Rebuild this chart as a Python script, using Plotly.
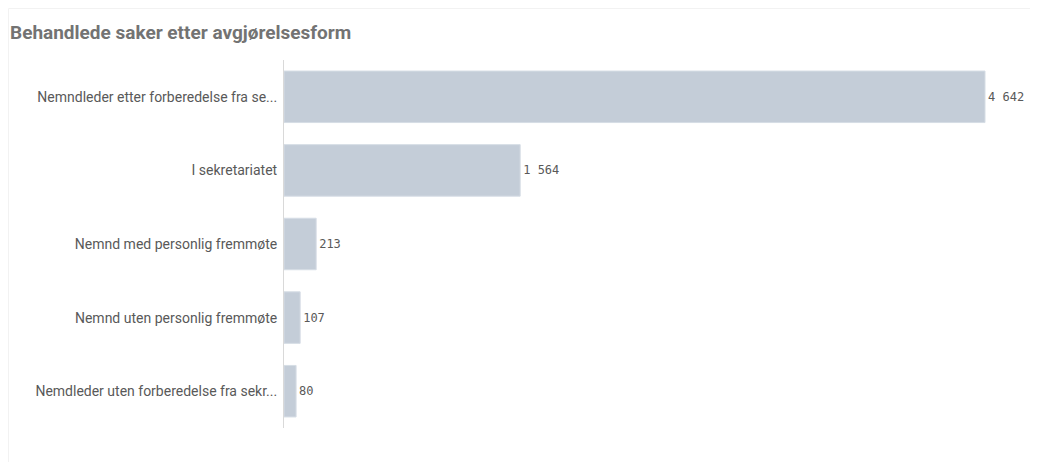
import plotly.graph_objects as go

categories = [
    "Nemndleder etter forberedelse fra se...",
    "I sekretariatet",
    "Nemnd med personlig fremmøte",
    "Nemnd uten personlig fremmøte",
    "Nemdleder uten forberedelse fra sekr...",
]
values = [4642, 1564, 213, 107, 80]
value_labels = ["4\u202f642", "1\u202f564", "213", "107", "80"]

W, H = 1030, 454
L, R, T, B = 276, 8, 52, 34
PW, PH = W - L - R, H - T - B

fig = go.Figure(go.Bar(
    y=categories,
    x=values,
    orientation="h",
    marker=dict(color="#c4cdd8", line=dict(color="#d6dde5", width=1)),
    text=value_labels,
    textposition="outside",
    cliponaxis=False,
    textfont=dict(family="DejaVu Sans Mono", size=12, color="#595959"),
    hoverinfo="skip",
))

fig.update_layout(
    width=W,
    height=H,
    paper_bgcolor="white",
    plot_bgcolor="white",
    margin=dict(l=L, r=R, t=T, b=B, autoexpand=False),
    bargap=0.3,
    showlegend=False,
    title=dict(
        text="<b>Behandlede saker etter avgjørelsesform</b>",
        x=2 / W, xref="container", xanchor="left",
        y=1 - 24 / H, yref="container", yanchor="middle",
        pad=dict(l=0, r=0, t=0, b=0),
        font=dict(family="Roboto, sans-serif", size=19, color="#737373"),
    ),
    xaxis=dict(
        range=[0, 4940],
        showgrid=False, zeroline=False, showticklabels=False,
        showline=False, ticks="", automargin=False,
    ),
    yaxis=dict(
        autorange="reversed",
        showgrid=False, zeroline=False,
        showline=True, linecolor="#d9d9d9", linewidth=1,
        ticks="", ticklabelstandoff=3, automargin=False,
        tickfont=dict(family="Roboto, sans-serif", size=14, color="#595959"),
    ),
    shapes=[
        dict(type="rect", xref="paper", yref="paper",
             x0=-L / PW + 0.5 / PW, x1=1 + R / PW + 0.01, y0=-B / PH - 0.01, y1=1 + T / PH - 0.5 / PH,
             line=dict(color="#f2f2f2", width=1), layer="below"),
    ],
)

fig.write_html("out.html")
